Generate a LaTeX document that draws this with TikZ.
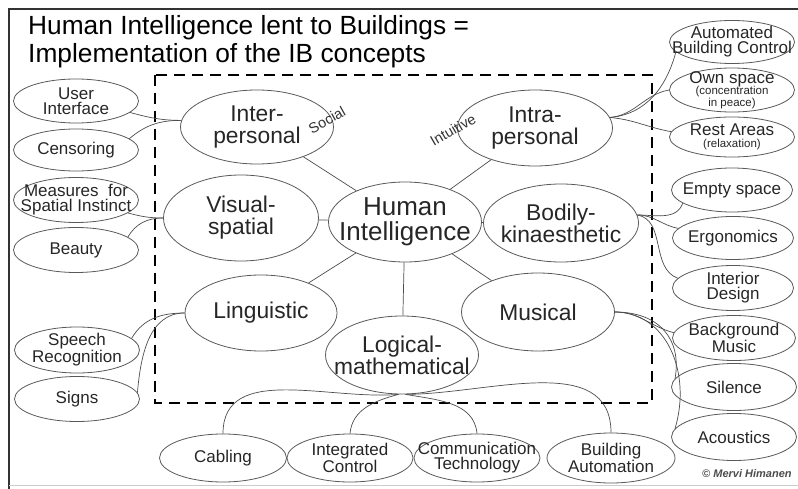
\documentclass[tikz,border=0pt]{standalone}
\usepackage{fontspec}
\setmainfont{Liberation Sans}
\usetikzlibrary{shapes.geometric}
\newcommand\subnote[1]{{\fontsize{11.5}{10}\selectfont #1}}
\begin{document}
\begin{tikzpicture}[x=1pt,y=-1pt,
  oval/.style={ellipse, draw=black!65, line width=0.8pt, align=center, text=black!85},
  core/.style={oval, inner xsep=-16pt, inner ysep=-10pt, font=\fontsize{22.8}{22}\selectfont, minimum width=153pt, minimum height=78pt},
  leaf/.style={oval, inner xsep=-20pt, inner ysep=-6pt, font=\fontsize{17}{15}\selectfont, minimum width=125pt, minimum height=44pt},
  link/.style={draw=black!70, line width=0.7pt},
  tag/.style={font=\fontsize{14.5}{14}\selectfont, text=black!80, inner sep=0pt},
]
\useasboundingbox (0,0) rectangle (798,489);
\clip (0,0) rectangle (798,489);

% page frame
\draw[line width=2.5pt, black!80] (9,489) -- (9,9) -- (798,9);
\draw[black!20, line width=1pt] (9,485) -- (798,485);

% heading
\node[anchor=base west, inner sep=0pt, font=\fontsize{26.3}{26}\selectfont] (head1) at (28,35) {Human Intelligence lent to Buildings =};
\node[anchor=base west, inner sep=0pt, font=\fontsize{26.3}{26}\selectfont] (head2) at (28,63) {Implementation of the IB concepts};

% boundary of the building concept
\draw[line width=2.2pt, dash pattern=on 11pt off 7pt] (155,75) rectangle (652,403);

% the seven intelligences around the core
\node[core, minimum height=80pt, font=\fontsize{26}{25}\selectfont] (hi) at (405,222) {Human\\Intelligence};
\node[core, minimum height=74pt] (inter) at (257,127) {Inter-\\personal};
\node[core, minimum width=155pt, minimum height=76pt] (intra) at (535,128) {Intra-\\personal};
\node[core, minimum width=155pt, minimum height=86pt] (vis) at (241,218) {Visual-\\spatial};
\node[core, minimum width=155pt, minimum height=78pt] (bod) at (561,223) {Bodily-\\kinaesthetic};
\node[core, minimum width=152pt, minimum height=76pt] (ling) at (261,313) {Linguistic};
\node[core, minimum height=78pt] (mus) at (538,312) {Musical};
\node[core, minimum height=78pt] (logic) at (402,355) {Logical-\\mathematical};

\node[tag, rotate=29] (social) at (327,120) {Social};
\node[tag, rotate=30] (intuitive) at (453,130) {Intuitive};

\draw[link] (hi) -- (inter);
\draw[link] (hi) -- (intra);
\draw[link] (hi) -- (vis);
\draw[link] (hi) -- (bod);
\draw[link] (hi) -- (ling);
\draw[link] (hi) -- (mus);
\draw[link] (hi) -- (logic);

% applications on the left
\node[leaf] (ui) at (76,101) {User\\Interface};
\node[leaf, minimum height=42pt] (cens) at (76,150) {Censoring};
\node[leaf, minimum height=45pt] (meas) at (76,200) {Measures\ \ for\\Spatial Instinct};
\node[leaf, minimum height=45pt] (beauty) at (76,250) {Beauty};
\node[leaf, minimum height=46pt] (speech) at (77,350) {Speech\\Recognition};
\node[leaf, minimum height=45pt] (signs) at (77,399) {Signs};

% applications on the right
\node[leaf, minimum height=43pt] (abc) at (732,42) {Automated\\Building Control};
\node[leaf, minimum height=44pt] (own) at (732,90) {Own space\\[-4pt]\subnote{(concentration}\\[-3pt]\subnote{in peace)}};
\node[leaf, minimum height=40pt] (rest) at (732,137) {Rest Areas\\[-3pt]\subnote{(relaxation)}};
\node[leaf, minimum width=121pt] (empty) at (732,190) {Empty space};
\node[leaf, minimum width=121pt, minimum height=43pt] (ergo) at (733,238) {Ergonomics};
\node[leaf, minimum width=121pt, minimum height=45pt] (interior) at (733,288) {Interior\\Design};
\node[leaf, minimum width=123pt, minimum height=45pt] (bgm) at (734,338) {Background\\Music};
\node[leaf, minimum width=125pt, minimum height=47pt] (silence) at (734,387) {Silence};
\node[leaf, minimum width=125pt, minimum height=47pt] (acoustics) at (734,437) {Acoustics};

% applications below
\node[leaf, minimum width=127pt, minimum height=48pt] (cabling) at (223,458) {Cabling};
\node[leaf, minimum width=126pt, minimum height=48pt] (integ) at (350,458) {Integrated\\Control};
\node[leaf, minimum width=126pt, minimum height=48pt] (comm) at (477,458) {Communication\\Technology};
\node[leaf, minimum width=128pt, minimum height=50pt] (bauto) at (611,458) {Building\\Automation};

\node[anchor=base west, inner sep=0pt, font=\fontsize{11}{10}\selectfont\itshape\bfseries, text=black!70] (credit) at (702,477) {© Mervi Himanen};

% left connectors
\draw[link] (ui.-12) to[out=-15,in=180] (inter.175);
\draw[link] (cens.12) to[out=40,in=180] (inter.175);
\draw[link] (meas.-14) to[out=-15,in=180] (vis.west);
\draw[link] (beauty.14) to[out=60,in=180] (vis.west);
\draw[link] (speech.12) to[out=60,in=180] (ling.west);
\draw[link] (signs.6) to[out=85,in=180] (ling.west);

% right connectors
\draw[link] (intra.8) to[out=5,in=-105] (abc.190);
\draw[link] (intra.8) to[out=5,in=190] (own.west);
\draw[link] (intra.8) to[out=-5,in=170] (rest.175);
\draw[link] (bod.6) to[out=0,in=250] (empty.195);
\draw[link] (bod.6) to[out=0,in=170] (ergo.170);
\draw[link] (bod.6) to[out=-10,in=160] (interior.170);
\draw[link] (mus.east) to[out=0,in=165] (bgm.175);
\draw[link] (mus.east) .. controls (660,312) and (682,340) .. (silence.172);
\draw[link] (mus.east) .. controls (666,312) and (692,372) .. (acoustics.172);

% bottom connectors
\draw[link] (logic.-95) to[out=185,in=90] (cabling.north);
\draw[link] (logic.-95) to[out=195,in=85] (integ.north);
\draw[link] (logic.-85) to[out=-10,in=95] (comm.north);
\draw[link] (logic.-85) to[out=0,in=90] (bauto.north);
\end{tikzpicture}
\end{document}
